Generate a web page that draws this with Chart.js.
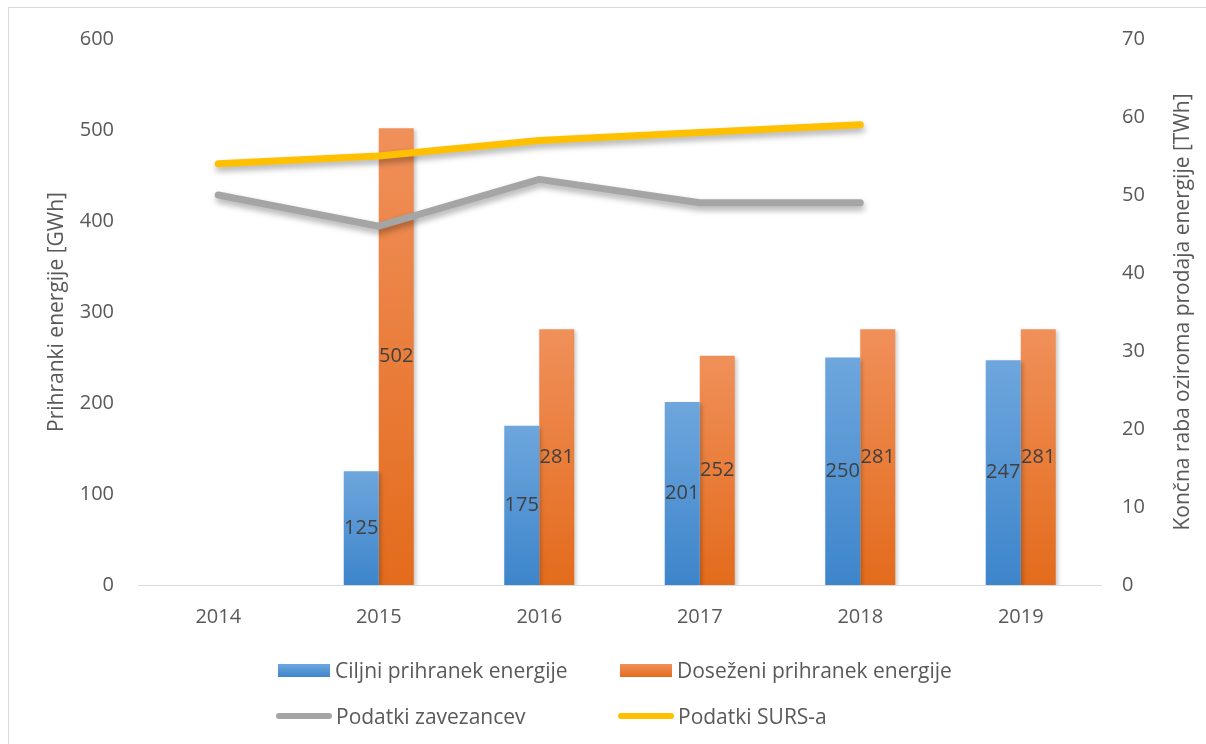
<!DOCTYPE html>
<html>
<head>
<meta charset="utf-8">
<script src="https://cdn.jsdelivr.net/npm/chart.js"></script>
<style>
  html, body { margin: 0; padding: 0; background: #fff; overflow: hidden; }
  #wrap { position: relative; width: 1206px; height: 744px; }
  #frame { position: absolute; left: 8px; top: 7px; width: 1220px; height: 800px; border: 1px solid #D9D9D9; }
  #chart { position: absolute; left: 0; top: 0; }
  .lg { position: absolute; font-family: "Open Sans", sans-serif; font-size: 21px; color: #595959; white-space: nowrap; display: flex; align-items: center; }
  .lg .box { width: 52px; height: 13px; margin-right: 5px; }
  .lg .ln { width: 56px; height: 6px; border-radius: 3px; margin-right: 4px; }
</style>
</head>
<body>
<div id="wrap">
  <div id="frame"></div>
  <canvas id="chart" width="1206" height="744"></canvas>
  <div id="legend"></div>
</div>
<script>
var years = ['2014', '2015', '2016', '2017', '2018', '2019'];
var ciljni = [null, 125, 175, 201, 250, 247];
var dosezeni = [null, 502, 281, 252, 281, 281];
var zavezanci = [50, 46, 52, 49, 49, null];
var surs = [54, 55, 57, 58, 59, null];

var leftTicks = [0, 100, 200, 300, 400, 500, 600];
var rightTicks = [0, 10, 20, 30, 40, 50, 60, 70];

var textColor = '#595959';
var fontName = '"Open Sans", sans-serif';

function barGradient(top, bottom) {
  return function(context) {
    var chart = context.chart;
    if (!chart.chartArea || context.raw == null) return bottom;
    var y = chart.scales.y;
    var y0 = y.getPixelForValue(context.raw);
    var y1 = y.getPixelForValue(0);
    var g = chart.ctx.createLinearGradient(0, y0, 0, y1);
    g.addColorStop(0, top);
    g.addColorStop(1, bottom);
    return g;
  };
}

var shadowPlugin = {
  id: 'shadows',
  beforeDatasetDraw: function(chart, args) {
    var ctx = chart.ctx;
    ctx.save();
    if (args.meta.type === 'line') {
      ctx.shadowColor = 'rgba(0,0,0,0.32)';
      ctx.shadowBlur = 6;
      ctx.shadowOffsetX = 1;
      ctx.shadowOffsetY = 4;
    } else {
      ctx.shadowColor = 'rgba(0,0,0,0.22)';
      ctx.shadowBlur = 4;
      ctx.shadowOffsetX = 2;
      ctx.shadowOffsetY = 2;
    }
  },
  afterDatasetDraw: function(chart) {
    chart.ctx.restore();
  }
};

var labelPlugin = {
  id: 'barLabels',
  afterDatasetsDraw: function(chart) {
    var ctx = chart.ctx;
    ctx.save();
    ctx.font = '20px ' + fontName;
    ctx.fillStyle = '#404040';
    ctx.textAlign = 'center';
    ctx.textBaseline = 'middle';
    chart.data.datasets.forEach(function(ds, i) {
      if (ds.type !== 'bar') return;
      chart.getDatasetMeta(i).data.forEach(function(el, j) {
        if (ds.data[j] == null) return;
        ctx.fillText(String(ds.data[j]), el.x, (el.y + el.base) / 2);
      });
    });
    // right axis title, reading bottom to top
    ctx.font = '21px ' + fontName;
    ctx.fillStyle = textColor;
    ctx.translate(1183, (chart.chartArea.top + chart.chartArea.bottom) / 2);
    ctx.rotate(-Math.PI / 2);
    ctx.fillText('Končna raba oziroma prodaja energije [TWh]', 0, 0);
    ctx.restore();
  }
};

var ctx = document.getElementById('chart').getContext('2d');
var chart = new Chart(ctx, {
  type: 'bar',
  data: {
    labels: years,
    datasets: [{
      type: 'bar',
      label: 'Ciljni prihranek energije',
      data: ciljni,
      backgroundColor: barGradient('#6EA6DD', '#3D85CB'),
      yAxisID: 'y',
      order: 2
    }, {
      type: 'bar',
      label: 'Doseženi prihranek energije',
      data: dosezeni,
      backgroundColor: barGradient('#F0905A', '#E36B1C'),
      yAxisID: 'y',
      order: 2
    }, {
      type: 'line',
      label: 'Podatki zavezancev',
      data: zavezanci,
      borderColor: '#A5A5A5',
      borderWidth: 7,
      borderCapStyle: 'round',
      borderJoinStyle: 'round',
      pointRadius: 0,
      tension: 0,
      yAxisID: 'y1',
      order: 1
    }, {
      type: 'line',
      label: 'Podatki SURS-a',
      data: surs,
      borderColor: '#FFC000',
      borderWidth: 7,
      borderCapStyle: 'round',
      borderJoinStyle: 'round',
      pointRadius: 0,
      tension: 0,
      yAxisID: 'y1',
      order: 1
    }]
  },
  options: {
    responsive: false,
    animation: false,
    devicePixelRatio: 1,
    layout: { padding: { top: 39, left: 0, right: 0, bottom: 0 } },
    plugins: {
      legend: { display: false },
      tooltip: { enabled: false }
    },
    datasets: {
      bar: { categoryPercentage: 0.436, barPercentage: 1 }
    },
    scales: {
      x: {
        grid: { display: false, drawTicks: false },
        border: { display: true, color: '#D9D9D9', width: 1 },
        ticks: { color: textColor, font: { family: fontName, size: 20 }, padding: 20 },
        afterFit: function(scale) { scale.height = 159; }
      },
      y: {
        position: 'left',
        min: 0,
        max: 600,
        afterBuildTicks: function(scale) { scale.ticks = leftTicks.map(function(v) { return { value: v }; }); },
        grid: { display: false, drawTicks: false },
        border: { display: false },
        ticks: { color: textColor, font: { family: fontName, size: 20 }, padding: 24 },
        title: {
          display: true,
          text: 'Prihranki energije [GWh]',
          color: textColor,
          font: { family: fontName, size: 21 },
          padding: { top: 44, bottom: 0 }
        },
        afterFit: function(scale) { scale.width = 138; }
      },
      y1: {
        position: 'right',
        min: 0,
        max: 70,
        afterBuildTicks: function(scale) { scale.ticks = rightTicks.map(function(v) { return { value: v }; }); },
        grid: { display: false, drawTicks: false },
        border: { display: false },
        ticks: { color: textColor, font: { family: fontName, size: 20 }, padding: 21 },
        afterFit: function(scale) { scale.width = 105; }
      }
    }
  },
  plugins: [shadowPlugin, labelPlugin]
});

// legend in two columns, built from the chart's datasets
var legendPos = [[278, 670], [620, 670], [276, 716], [618, 716]];
var legendSwatch = [
  'box" style="background:linear-gradient(#6EA6DD,#3D85CB)',
  'box" style="background:linear-gradient(#F0905A,#E36B1C)',
  'ln" style="background:#A5A5A5',
  'ln" style="background:#FFC000'
];
var legendHtml = '';
chart.data.datasets.forEach(function(ds, i) {
  legendHtml += '<div class="lg" style="left:' + legendPos[i][0] + 'px;top:' + (legendPos[i][1] - 15) + 'px;height:30px">' +
    '<span class="' + legendSwatch[i] + '"></span>' + ds.label + '</div>';
});
document.getElementById('legend').innerHTML = legendHtml;
</script>
</body>
</html>
